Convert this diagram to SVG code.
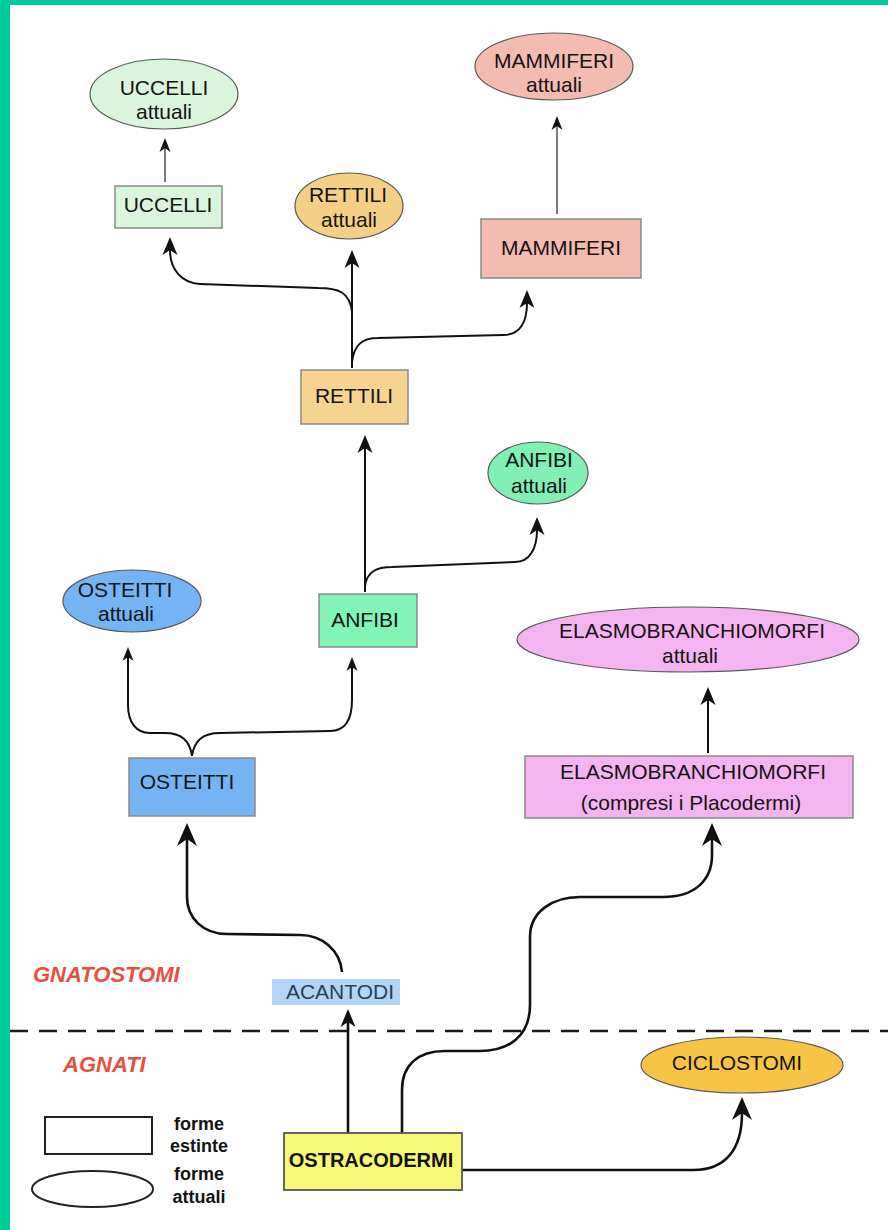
<svg xmlns="http://www.w3.org/2000/svg" width="888" height="1230" viewBox="0 0 888 1230">
<style>
text{font-family:"Liberation Sans",Arial,sans-serif;fill:#141414;text-anchor:middle}
.t{font-size:21px}
.b{font-weight:bold}
.grp{font-size:22px;font-weight:bold;font-style:italic;fill:#e8503c;text-anchor:start}
.leg{font-size:18px;font-weight:bold}
.box{stroke:#8a8a8a;stroke-width:1.5}
.ell{stroke:#5a5a5a;stroke-width:1.2}
.c{fill:none;stroke:#111;stroke-width:2}
.ck{fill:none;stroke:#111;stroke-width:2.6}
.cg{fill:none;stroke:#7a7a7a;stroke-width:2}
</style>
<defs>
<marker id="sm" markerUnits="userSpaceOnUse" viewBox="-15 -7 16 14" markerWidth="16" markerHeight="14" refX="-10" refY="0" orient="auto" overflow="visible">
<path d="M0,0 L-14,-5.5 L-10,0 L-14,5.5 Z" fill="#111"/>
</marker>
<marker id="md" markerUnits="userSpaceOnUse" viewBox="-19 -9 20 18" markerWidth="20" markerHeight="18" refX="-13" refY="0" orient="auto" overflow="visible">
<path d="M0,0 L-18,-7.5 L-13,0 L-18,7.5 Z" fill="#111"/>
</marker>
<marker id="lg" markerUnits="userSpaceOnUse" viewBox="-24 -11 25 22" markerWidth="25" markerHeight="22" refX="-16" refY="0" orient="auto" overflow="visible">
<path d="M0,0 L-23,-10 L-16,0 L-23,10 Z" fill="#111"/>
</marker>
</defs>
<rect x="0" y="0" width="888" height="1230" fill="#fefefe"/>
<rect x="0" y="0" width="888" height="5" fill="#00cc99"/>
<rect x="0" y="0" width="10" height="1230" fill="#00cc99"/>

<g id="separator">
<line x1="10" y1="1031" x2="888" y2="1031" stroke="#1a1a1a" stroke-width="2.5" stroke-dasharray="18 11"/>
<text class="grp" x="33" y="982">GNATOSTOMI</text>
<text class="grp" x="63" y="1072">AGNATI</text>
</g>

<g id="connectors">
<path class="cg" d="M165,182 V148" marker-end="url(#sm)"/>
<path class="cg" d="M557,214 V126" marker-end="url(#sm)"/>
<path class="c" d="M352,368 V263" marker-end="url(#md)"/>
<path class="c" d="M352,312 C350,292 338,288 318,288 L200,284 C182,283 170,270 170,250" marker-end="url(#md)"/>
<path class="c" d="M352,362 C354,345 362,338 378,338 L503,335 C520,335 527,322 527,303" marker-end="url(#md)"/>
<path class="c" d="M365,592 V448" marker-end="url(#md)"/>
<path class="c" d="M365,586 C367,572 376,567 392,567 L515,562 C530,562 537,548 537,530" marker-end="url(#md)"/>
<path class="c" d="M192,756 C190,740 180,733 165,733 L150,733 C136,733 128,722 128,705 L128,657" marker-end="url(#sm)"/>
<path class="c" d="M192,756 C194,740 204,733 220,733 L330,731 C345,731 352,720 352,700 L352,667" marker-end="url(#sm)"/>
<path class="ck" d="M342,972 C340,950 322,935 300,935 L227,934 C203,934 187,918 187,897 L187,839" marker-end="url(#lg)"/>
<path class="c" d="M708,753 V700" marker-end="url(#md)"/>
<path class="ck" d="M348,1133 V1022" marker-end="url(#md)"/>
<path class="ck" d="M402,1133 V1090 C402,1065 418,1051 445,1051 L480,1051 C510,1051 530,1035 530,1005 L530,937 C530,912 552,897 580,897 L663,897 C695,897 712,880 712,855 L712,839" marker-end="url(#lg)"/>
<path class="ck" d="M462,1170 L693,1170 C725,1170 742,1150 742,1113" marker-end="url(#lg)"/>
</g>

<g id="uccelli-attuali">
<ellipse class="ell" cx="164" cy="94" rx="74" ry="35" fill="#d9f5dc"/>
<text class="t" x="164" y="95">UCCELLI</text>
<text class="t" x="164" y="119">attuali</text>
</g>
<g id="uccelli">
<rect class="box" x="115" y="186" width="107" height="42" fill="#d9f5dc"/>
<text class="t" x="168" y="212">UCCELLI</text>
</g>
<g id="rettili-attuali">
<ellipse class="ell" cx="349" cy="206" rx="54" ry="33" fill="#f4cf86"/>
<text class="t" x="348" y="202">RETTILI</text>
<text class="t" x="349" y="227">attuali</text>
</g>
<g id="mammiferi-attuali">
<ellipse class="ell" cx="554" cy="66.5" rx="79" ry="33.5" fill="#f4bcb0"/>
<text class="t" x="554" y="68">MAMMIFERI</text>
<text class="t" x="554" y="92">attuali</text>
</g>
<g id="mammiferi">
<rect class="box" x="481" y="219" width="160" height="59" fill="#f4bcb0"/>
<text class="t" x="561" y="255">MAMMIFERI</text>
</g>
<g id="rettili">
<rect class="box" x="301" y="370" width="107" height="54" fill="#f5d490"/>
<text class="t" x="354" y="403">RETTILI</text>
</g>
<g id="anfibi-attuali">
<ellipse class="ell" cx="538" cy="473" rx="50" ry="31" fill="#80f0b4"/>
<text class="t" x="539" y="467">ANFIBI</text>
<text class="t" x="539" y="493">attuali</text>
</g>
<g id="anfibi">
<rect class="box" x="319" y="594" width="98" height="53" fill="#80f5b5"/>
<text class="t" x="365" y="627">ANFIBI</text>
</g>
<g id="osteitti-attuali">
<ellipse class="ell" cx="132" cy="601" rx="69" ry="31" fill="#74b4f4"/>
<text class="t" x="125" y="597">OSTEITTI</text>
<text class="t" x="126" y="621">attuali</text>
</g>
<g id="osteitti">
<rect class="box" x="129" y="758" width="126" height="58" fill="#74b4f4"/>
<text class="t" x="187" y="789">OSTEITTI</text>
</g>
<g id="elasmo-attuali">
<ellipse class="ell" cx="688" cy="639.5" rx="171" ry="32.5" fill="#f4b4f0"/>
<text class="t" x="692" y="638">ELASMOBRANCHIOMORFI</text>
<text class="t" x="690" y="663">attuali</text>
</g>
<g id="elasmo">
<rect class="box" x="525" y="756" width="328" height="62" fill="#f4b4f0"/>
<text class="t" x="693" y="779">ELASMOBRANCHIOMORFI</text>
<text class="t" x="691" y="810">(compresi i Placodermi)</text>
</g>
<g id="acantodi">
<rect x="272" y="979" width="128" height="26" fill="#b4d4f4"/>
<text class="t" x="340" y="999" style="fill:#2b3f5c">ACANTODI</text>
</g>
<g id="ostracodermi">
<rect x="284" y="1133" width="178" height="57" fill="#f8f878" stroke="#555" stroke-width="1.8"/>
<text class="b" x="371" y="1167" style="font-size:20px">OSTRACODERMI</text>
</g>
<g id="ciclostomi">
<ellipse class="ell" cx="742" cy="1065" rx="101" ry="28" fill="#f8c445"/>
<text class="t" x="737" y="1070">CICLOSTOMI</text>
</g>
<g id="legend">
<rect x="45" y="1117" width="107" height="37" fill="#fff" stroke="#222" stroke-width="2"/>
<ellipse cx="92.5" cy="1189" rx="60.5" ry="18" fill="#fff" stroke="#222" stroke-width="2"/>
<text class="leg" x="199" y="1130">forme</text>
<text class="leg" x="199" y="1152">estinte</text>
<text class="leg" x="199" y="1180">forme</text>
<text class="leg" x="199" y="1203">attuali</text>
</g>
</svg>
